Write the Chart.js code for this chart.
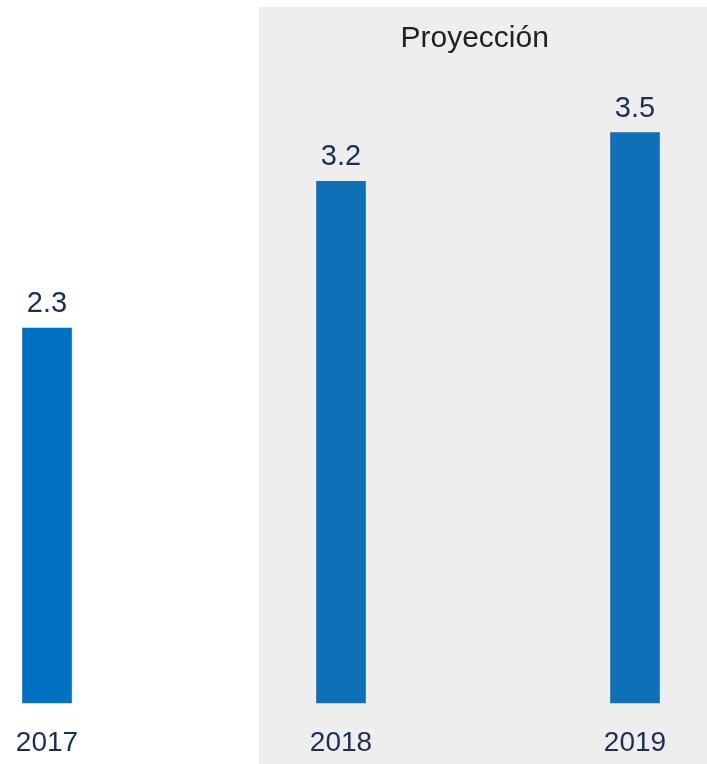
<!DOCTYPE html>
<html>
<head>
<meta charset="utf-8">
<script src="https://cdn.jsdelivr.net/npm/chart.js@4"></script>
<style>
html,body{margin:0;padding:0;background:#fff;}
#wrap{width:707px;height:764px;position:relative;}
</style>
</head>
<body>
<div id="wrap"><canvas id="c" width="707" height="764"></canvas></div>
<script>
const categories = ['2017', '2018', '2019'];
const values = [2.3, 3.2, 3.5];
const barColors = ['#0070C0', '#0F70B7', '#0F70B7'];
const projectionLabel = 'Proyección';
const projectionStartIndex = 1;

const FONT = '"Liberation Sans", Arial, sans-serif';

const bgPlugin = {
  id: 'projectionBg',
  beforeDraw(chart) {
    const {ctx, scales: {x}} = chart;
    const p0 = x.getPixelForValue(projectionStartIndex - 1);
    const p1 = x.getPixelForValue(projectionStartIndex);
    const left = p0 + (p1 - p0) * 0.72;
    ctx.save();
    ctx.fillStyle = '#EEEEEE';
    ctx.fillRect(left, 7, chart.width - left, chart.height - 7);
    ctx.fillStyle = '#222222';
    ctx.font = '30px ' + FONT;
    ctx.textAlign = 'center';
    ctx.textBaseline = 'alphabetic';
    ctx.fillText(projectionLabel, left + 216, 47);
    ctx.restore();
  },
  afterDatasetsDraw(chart) {
    const {ctx} = chart;
    const meta = chart.getDatasetMeta(0);
    ctx.save();
    ctx.fillStyle = '#1B2F56';
    ctx.font = '29px ' + FONT;
    ctx.textAlign = 'center';
    ctx.textBaseline = 'alphabetic';
    meta.data.forEach((bar, i) => {
      ctx.fillText(values[i].toFixed(1), bar.x, bar.y - 16);
    });
    ctx.restore();
  }
};

new Chart(document.getElementById('c'), {
  type: 'bar',
  data: {
    labels: categories,
    datasets: [{
      data: values,
      backgroundColor: barColors,
      barThickness: 49,
      clip: false
    }]
  },
  options: {
    responsive: false,
    animation: false,
    devicePixelRatio: 1,
    layout: {padding: {left: 47, right: 72, top: 51, bottom: 0}},
    plugins: {legend: {display: false}, tooltip: {enabled: false}},
    scales: {
      x: {
        offset: false,
        grid: {display: false},
        border: {display: false},
        afterFit(scale) { scale.height = 61; },
        ticks: {color: '#1B2F56', font: {family: FONT, size: 28}, padding: 15, maxRotation: 0, autoSkip: false}
      },
      y: {
        display: false,
        min: 0,
        max: 4
      }
    }
  },
  plugins: [bgPlugin]
});
</script>
</body>
</html>
